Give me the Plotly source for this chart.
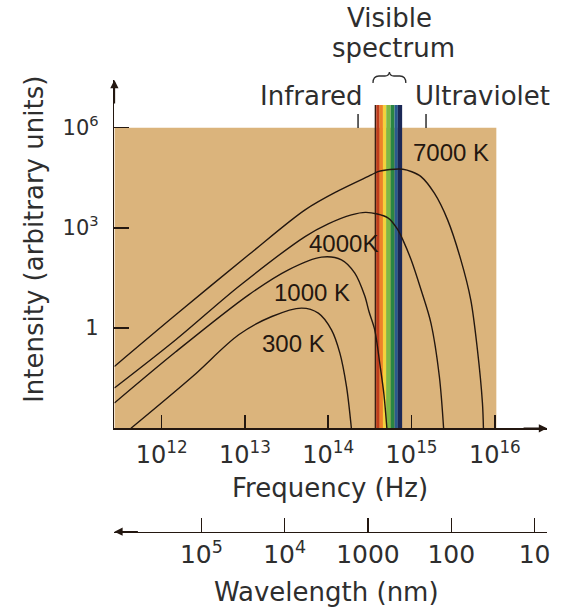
import numpy as np
import plotly.graph_objects as go

W, H = 563, 610

# ---- data: log10(frequency / Hz), log10(intensity / arb. units)
t7000_logf = [11.433, 12.170, 13.045, 13.722, 14.119, 14.517, 14.597, 14.740, 14.896,
              15.003, 15.114, 15.274, 15.433, 15.592, 15.711, 15.791, 15.851, 15.863]
t7000_logi = [-1.149, 0.398, 2.193, 3.539, 4.107, 4.586, 4.684, 4.747, 4.756,
              4.681, 4.535, 4.038, 3.240, 2.043, 0.847, -0.649, -2.235, -3.0]

t4000_logf = [11.433, 12.170, 12.925, 13.722, 14.000, 14.278, 14.454, 14.716, 14.836,
              14.896, 14.995, 15.114, 15.233, 15.334, 15.385]
t4000_logi = [-1.795, -0.350, 1.244, 2.740, 3.120, 3.389, 3.464, 3.299, 2.940,
              2.641, 2.043, 1.146, 0.150, -1.448, -3.0]

t1000_logf = [11.433, 12.170, 13.045, 13.522, 13.920, 14.159, 14.319, 14.438, 14.490,
              14.558, 14.621, 14.669, 14.704]
t1000_logi = [-2.243, -0.709, 0.996, 1.744, 2.124, 2.043, 1.645, 0.966, 0.488,
              -0.051, -1.098, -1.995, -3.0]

t300_logf = [11.632, 12.368, 12.925, 13.323, 13.681, 13.881, 14.039, 14.140, 14.219, 14.278]
t300_logi = [-3.0, -1.457, -0.200, 0.347, 0.598, 0.449, -0.051, -0.748, -1.747, -3.0]

curve_names = ["7000 K", "4000K", "1000 K", "300 K"]
curve_label_logf = [15.469, 14.179, 13.809, 13.582]
curve_label_logi = [5.244, 2.522, 1.056, -0.470]

freq_ticks_hz = [1e12, 1e13, 1e14, 1e15, 1e16]
freq_tick_text = ["10<sup>12</sup>", "10<sup>13</sup>", "10<sup>14</sup>", "10<sup>15</sup>", "10<sup>16</sup>"]

int_ticks = [1, 1e3, 1e6]
int_tick_text = ["1", "10<sup>3</sup>", "10<sup>6</sup>"]

wavelength_nm = [1e5, 1e4, 1000, 100, 10]
wavelength_text = ["10<sup>5</sup>", "10<sup>4</sup>", "1000", "100", "10"]
C_NM_PER_S = 2.998e17

# visible spectrum stripes (log10 Hz edges) and colours, red -> violet
vis_edges_logf = [14.5576, 14.5767, 14.6173, 14.6567, 14.6961, 14.7487, 14.7964, 14.8358, 14.8872]
vis_colors = ["#3b1c12", "#bf3d1c", "#ec8228", "#f2d23c", "#7fb844", "#2a8542", "#285a8c", "#1b2856"]

ir_uv_marks_logf = [14.358, 15.174]

# ---- layout geometry (pixels)
def px(x):
    return x / W

def py(y):
    return 1 - y / H

X_LEFT, X_RIGHT = 115, 550
Y_BOTTOM, Y_TOP = 428.3, 80
xrange_log = [11.433, 16.627]
yrange_log = [-3.0, 7.427]
tan_right_logf = 16.018
band_top_logi = 6.68

TXT = "#2e2e2e"
LINE = "#231710"

fig = go.Figure()

series = [(t7000_logf, t7000_logi), (t4000_logf, t4000_logi),
          (t1000_logf, t1000_logi), (t300_logf, t300_logi)]
for name, (lf, li) in zip(curve_names, series):
    fig.add_trace(go.Scatter(
        x=10 ** np.array(lf), y=10 ** np.array(li), mode="lines", name=name,
        line=dict(color=LINE, width=1.4, shape="spline", smoothing=0.9),
        showlegend=False, hoverinfo="skip"))

# invisible trace so the wavelength axis is drawn
fig.add_trace(go.Scatter(x=[1e13], y=[1], xaxis="x2", yaxis="y2", mode="markers",
                         marker=dict(opacity=0), showlegend=False, hoverinfo="skip"))

shapes = []
# tan background
shapes.append(dict(type="rect", xref="x", yref="y", x0=10 ** xrange_log[0], x1=10 ** tan_right_logf,
                   y0=10 ** yrange_log[0], y1=1e6, fillcolor="#dbb47c", line=dict(width=0), layer="below"))
# visible spectrum
for i, col in enumerate(vis_colors):
    shapes.append(dict(type="rect", xref="x", yref="y",
                       x0=10 ** vis_edges_logf[i], x1=10 ** vis_edges_logf[i + 1],
                       y0=10 ** yrange_log[0], y1=10 ** band_top_logi,
                       fillcolor=col, line=dict(width=0), layer="below"))
# IR / UV marks
for lf in ir_uv_marks_logf:
    shapes.append(dict(type="line", xref="x", yref="paper", x0=10 ** lf, x1=10 ** lf,
                       y0=py(128), y1=py(114), line=dict(color=TXT, width=1.5)))
# brace
def P(x, y):
    return f"{px(x):.5f},{py(y):.5f}"
brace = (f"M {P(375,83)} Q {P(375,76)} {P(381,76)} L {P(387,76)} Q {P(391,76)} {P(391.5,72)} "
         f"Q {P(392,76)} {P(396,76)} L {P(402,76)} Q {P(408,76)} {P(408,83)}")
shapes.append(dict(type="path", xref="paper", yref="paper", path=brace,
                   line=dict(color=TXT, width=1.3)))

annotations = []
big = dict(family="DejaVu Sans", size=26, color=TXT)

def label(x, y, text, xanchor="center", **kw):
    annotations.append(dict(x=px(x), y=py(y), xref="paper", yref="paper", text=text,
                            showarrow=False, font=big, xanchor=xanchor, yanchor="middle",
                            borderpad=0, **kw))

label(392, 18, "Visible")
label(396, 48, "spectrum")
label(313, 96, "Infrared")
label(416, 96, "Ultraviolet", xanchor="left")
label(332, 488, "Frequency (Hz)")
label(328, 592, "Wavelength (nm)")
label(34, 239, "Intensity (arbitrary units)", textangle=-90)

for name, lf, li in zip(curve_names, curve_label_logf, curve_label_logi):
    annotations.append(dict(x=lf, y=li, xref="x", yref="y", text=name, showarrow=False,
                            xanchor="center", yanchor="middle",
                            font=dict(family="Liberation Sans", size=24, color=LINE)))
# axis arrows
arrow = dict(showarrow=True, text="", arrowhead=2, arrowsize=1.1, arrowwidth=1.5,
             arrowcolor=LINE, xref="paper", yref="paper")
annotations.append(dict(x=px(X_LEFT), y=py(Y_TOP), ax=0, ay=25, **arrow))
annotations.append(dict(x=px(X_RIGHT), y=py(Y_BOTTOM), ax=-25, ay=0, **arrow))
annotations.append(dict(x=px(X_LEFT), y=py(531.7), ax=25, ay=0, **arrow))

axis_common = dict(showgrid=False, zeroline=False, showline=True, linecolor=LINE, linewidth=1.5,
                   ticks="inside", tickwidth=1.5, tickcolor=LINE)

fig.update_layout(
    width=W, height=H, autosize=False,
    margin=dict(l=0, r=0, t=0, b=0, pad=0),
    paper_bgcolor="white", plot_bgcolor="rgba(0,0,0,0)",
    showlegend=False,
    xaxis=dict(type="log", domain=[px(X_LEFT), px(X_RIGHT)], range=xrange_log, anchor="y",
               tickvals=freq_ticks_hz, ticktext=freq_tick_text, ticklen=13,
               tickfont=dict(family="DejaVu Sans", size=24, color=TXT), ticklabelstandoff=4,
               **axis_common),
    yaxis=dict(type="log", domain=[py(Y_BOTTOM), py(Y_TOP)], range=yrange_log, anchor="x",
               tickvals=int_ticks, ticktext=int_tick_text, ticklen=15,
               tickfont=dict(family="DejaVu Sans", size=21, color=TXT), ticklabelstandoff=10,
               **axis_common),
    xaxis2=dict(type="log", domain=[px(X_LEFT), px(X_RIGHT)], range=xrange_log, anchor="y2",
                tickvals=[C_NM_PER_S / w for w in wavelength_nm], ticktext=wavelength_text,
                ticklen=14, tickfont=dict(family="DejaVu Sans", size=25, color=TXT),
                ticklabelstandoff=0, **axis_common),
    yaxis2=dict(domain=[py(531.7), py(500)], anchor="x2", visible=False, range=[0, 1]),
    shapes=shapes, annotations=annotations,
)

fig.write_html("out.html", config={"displayModeBar": False, "staticPlot": True},
               post_script="document.body.style.margin='0';document.body.style.overflow='hidden';")
